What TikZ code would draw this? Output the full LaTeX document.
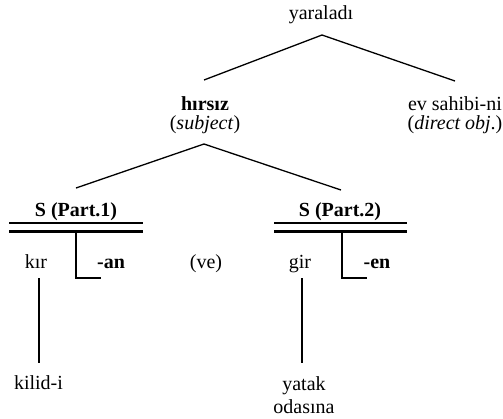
\documentclass[tikz,border=0pt]{standalone}
\usepackage{fontspec}
\setmainfont{Liberation Serif}
\begin{document}
\begin{tikzpicture}[x=1pt,y=-1pt,
  every node/.style={inner sep=0pt, anchor=base, font=\fontsize{20}{19}\selectfont},
  ln/.style={line width=1.3pt},
  bar/.style={line width=2.3pt}]
\useasboundingbox (0,0) rectangle (503,418);
% top level
\node (yar) at (321,19.5) {yaraladı};
\coordinate (apex) at (322,35);
\coordinate (lend) at (204,80);
\coordinate (rend) at (455,81);
\draw[ln] (lend) -- (apex) -- (rend);
\node[align=center] (hir) at (205,129) {\textbf{hırsız}\\(\textit{subject})};
\node[align=center] (ev) at (455,129) {ev sahibi-ni\\(\textit{direct obj}.)};
% second level
\coordinate (apex2) at (204,144);
\coordinate (l2) at (76,188);
\coordinate (r2) at (341,190);
\draw[ln] (l2) -- (apex2) -- (r2);
% Part 1
\node (s1) at (76,216) {\textbf{S (Part.1)}};
\coordinate (b1a) at (9,223); \coordinate (b1b) at (143,223);
\coordinate (b1c) at (9,231.5); \coordinate (b1d) at (143,231.5);
\draw[bar] (b1a) -- (b1b);
\draw[bar] (b1c) -- (b1d);
\coordinate (v1top) at (76,231.5);
\coordinate (v1bot) at (76,278);
\coordinate (v1end) at (101,278);
\draw[ln] (v1top) -- (v1bot) -- (v1end);
\node (kir) at (36,268) {kır};
\node (an) at (111,268) {\textbf{-an}};
\node (ve) at (206,268) {(ve)};
\coordinate (k1) at (39,278);
\coordinate (k2) at (39,363);
\draw[ln] (k1) -- (k2);
\node (kil) at (38.5,389) {kilid-i};
% Part 2
\node (s2) at (340,216) {\textbf{S (Part.2)}};
\coordinate (b2a) at (274,223); \coordinate (b2b) at (407,223);
\coordinate (b2c) at (274,231.5); \coordinate (b2d) at (407,231.5);
\draw[bar] (b2a) -- (b2b);
\draw[bar] (b2c) -- (b2d);
\coordinate (v2top) at (342,231.5);
\coordinate (v2bot) at (342,278);
\coordinate (v2end) at (367,278);
\draw[ln] (v2top) -- (v2bot) -- (v2end);
\node (gir) at (300,268) {gir};
\node (en) at (377,268) {\textbf{-en}};
\coordinate (g1) at (302,278);
\coordinate (g2) at (302,363);
\draw[ln] (g1) -- (g2);
\node[align=center] (yat) at (304,413) {yatak\\[4pt]odasına};
\end{tikzpicture}
\end{document}
